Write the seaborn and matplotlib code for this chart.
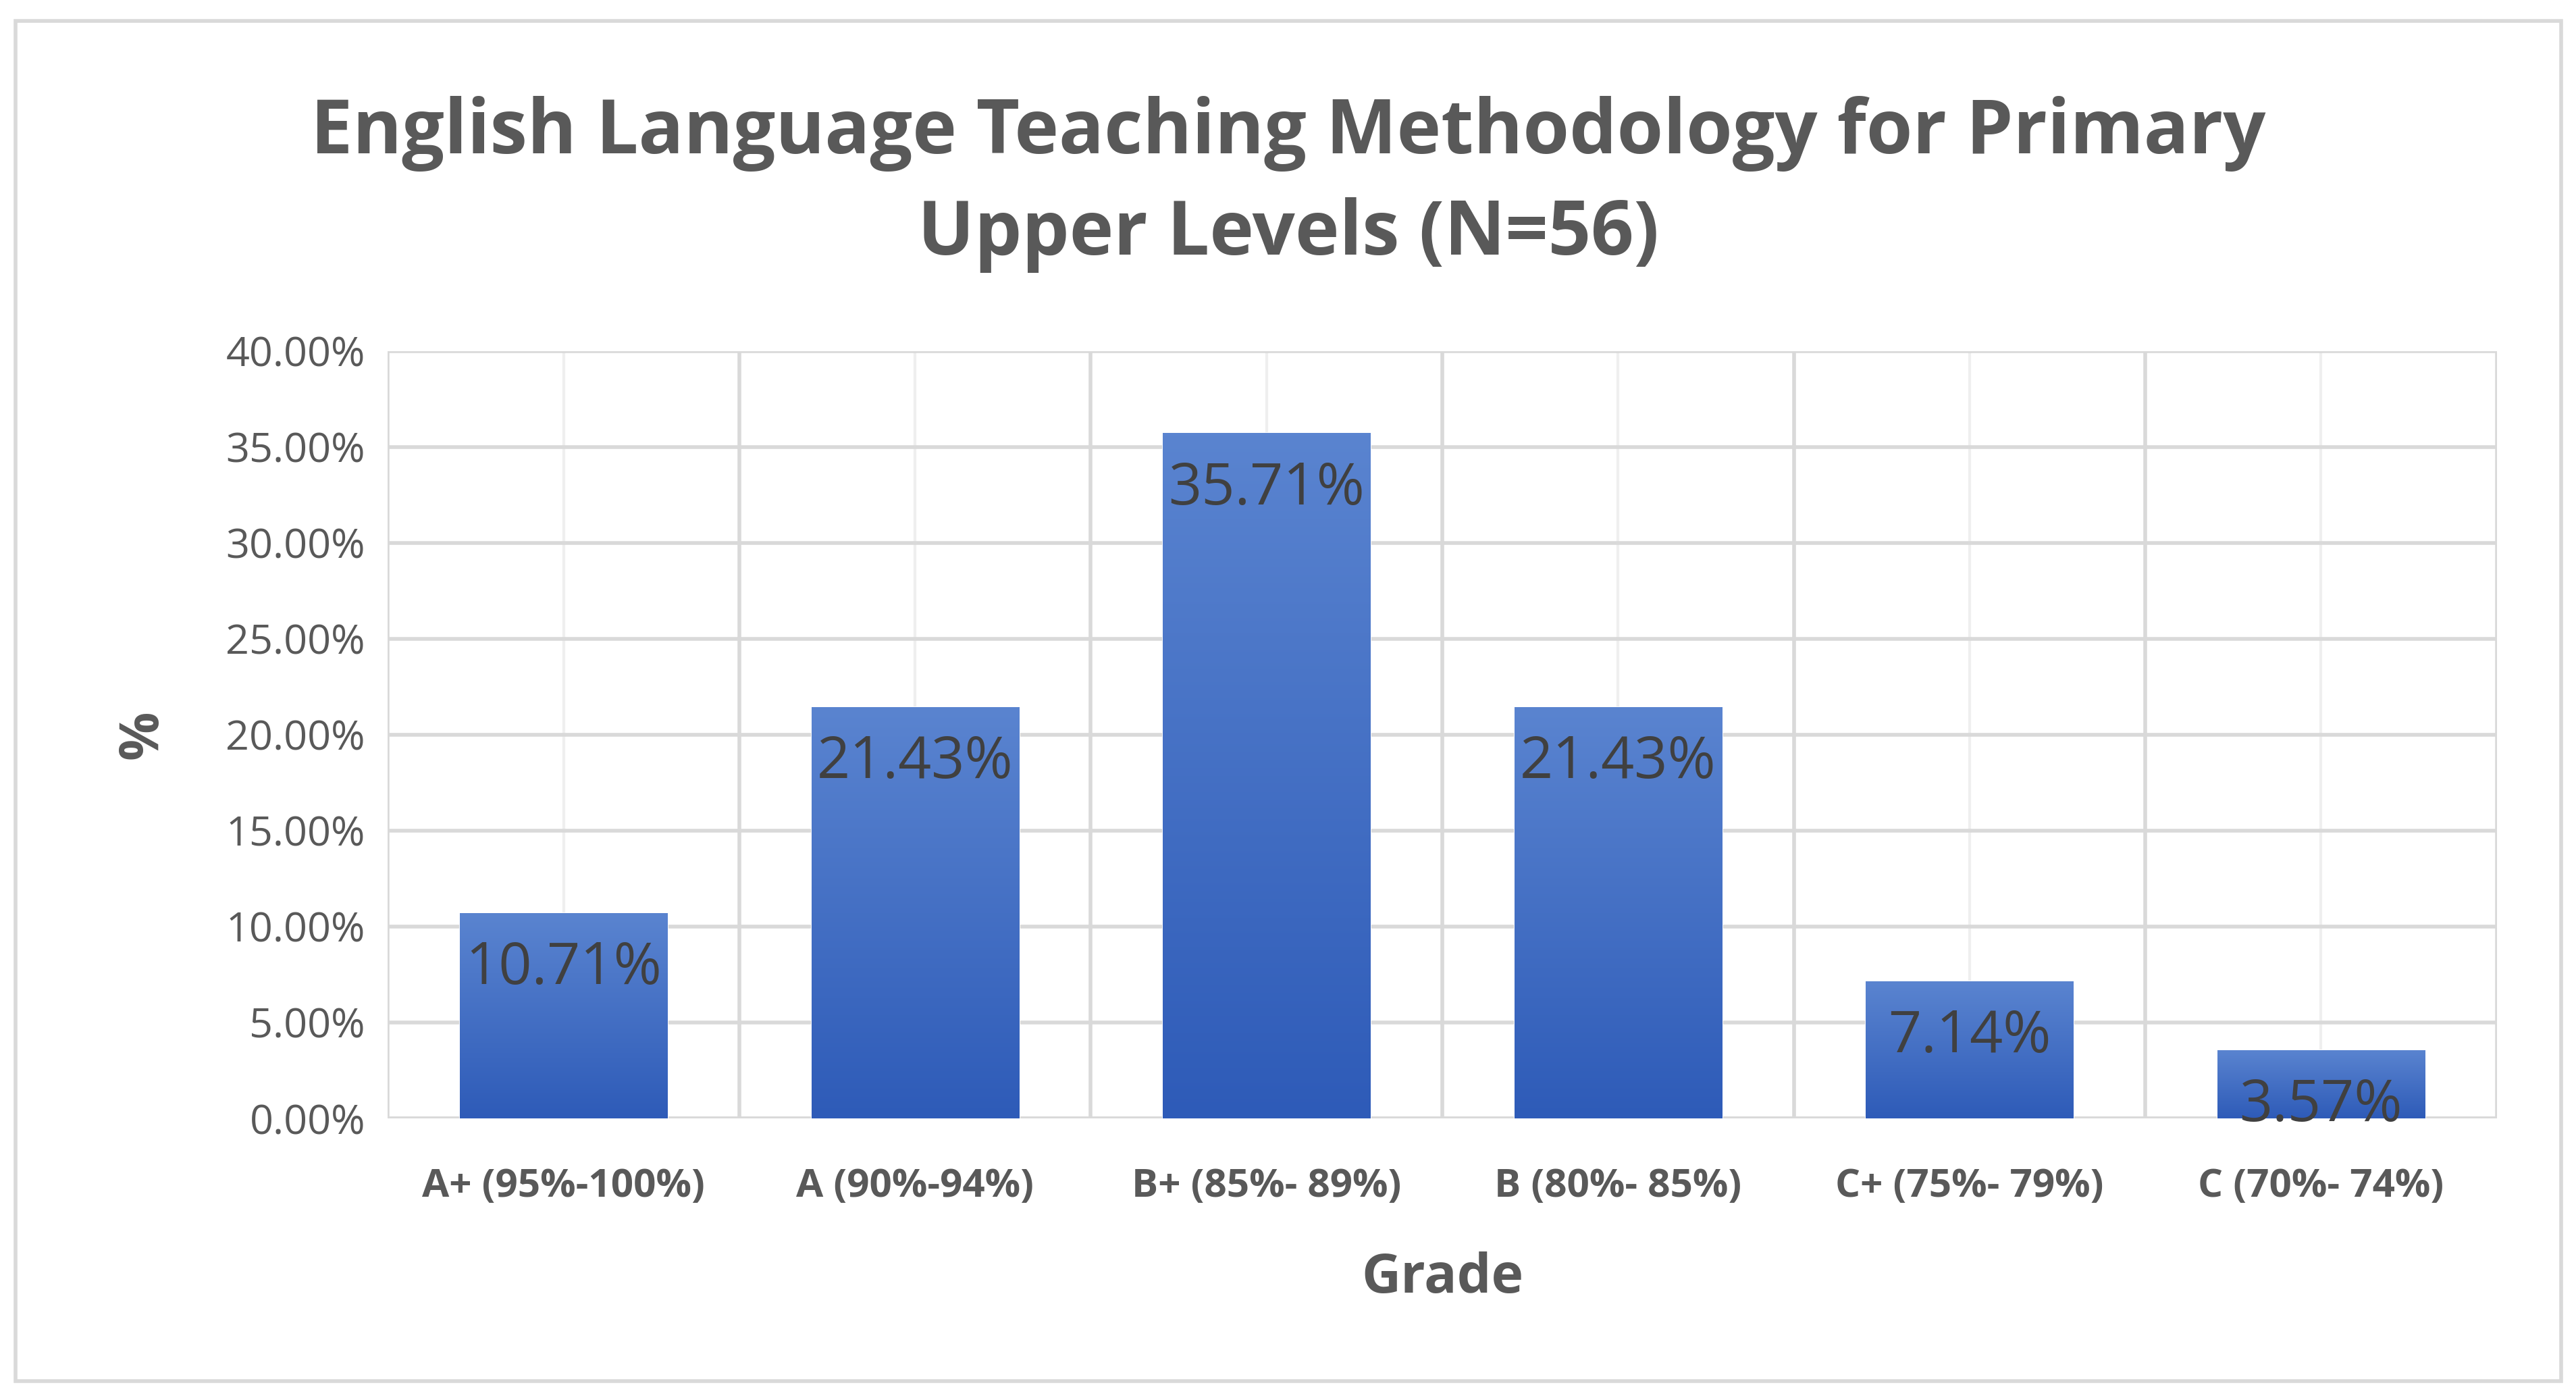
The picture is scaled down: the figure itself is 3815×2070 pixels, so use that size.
import numpy as np
import pandas as pd
import matplotlib.pyplot as plt
import seaborn as sns
from matplotlib.patches import Rectangle
from matplotlib.ticker import FuncFormatter, MultipleLocator

sns.set_style("white")
plt.rcParams['font.family'] = ['Open Sans', 'DejaVu Sans']

grades = ['A+ (95%-100%)', 'A (90%-94%)', 'B+ (85%- 89%)', 'B (80%- 85%)', 'C+ (75%- 79%)', 'C (70%- 74%)']
percent = [10.71, 21.43, 35.71, 21.43, 7.14, 3.57]

df = pd.DataFrame({'grade': grades, 'percent': percent})

fig = plt.figure(figsize=(19.08, 10.35), dpi=200)
ax = fig.add_axes([0.1505, 0.2, 0.8185, 0.549])

sns.barplot(data=df, x='grade', y='percent', color='#3b6cc9', width=0.59, ax=ax, zorder=3)

# vertical gradient on each bar
grad = np.linspace(0, 1, 256).reshape(-1, 1)
cmap = plt.matplotlib.colors.LinearSegmentedColormap.from_list('g', ['#2e5bb8', '#5a84d0'])
for p in ax.patches:
    x0, y0 = p.get_x(), p.get_y()
    w, h = p.get_width(), p.get_height()
    im = ax.imshow(grad, extent=[x0, x0 + w, y0, y0 + h], origin='lower', cmap=cmap,
                   aspect='auto', zorder=4)
    im.set_clip_path(p)
    ax.text(x0 + w / 2, y0 + h - 1.4, f'{h:.2f}%', ha='center', va='top',
            fontsize=31, color='#404040', zorder=5)

ax.set_xlim(-0.5, len(grades) - 0.5)
ax.set_ylim(0, 40)
ax.yaxis.set_major_locator(MultipleLocator(5))
ax.yaxis.set_major_formatter(FuncFormatter(lambda v, _: f'{v:.2f}%'))
ax.grid(axis='y', color='#d9d9d9', linewidth=2, zorder=0)
for i in range(len(grades) + 1):
    ax.axvline(i - 0.5, color='#d9d9d9', linewidth=2, zorder=0)
for i in range(len(grades)):
    ax.axvline(i, color='#efefef', linewidth=1.5, zorder=0)

for s in ax.spines.values():
    s.set_visible(False)
ax.axhline(0, color='#d9d9d9', linewidth=2, zorder=2)
ax.tick_params(axis='y', labelsize=22, labelcolor='#595959', length=0, pad=12)
ax.tick_params(axis='x', labelsize=21, labelcolor='#595959', length=0, pad=26)
for t in ax.get_xticklabels():
    t.set_fontweight('bold')

ax.set_xlabel('Grade', fontsize=29, fontweight='bold', color='#595959', labelpad=24)
ax.set_ylabel('%', fontsize=29, fontweight='bold', color='#595959', labelpad=30)

fig.text(0.5, 0.868, 'English Language Teaching Methodology for Primary\nUpper Levels (N=56)',
         ha='center', va='center', fontsize=40, fontweight='bold', color='#595959',
         linespacing=1.45)

fig.patches.append(Rectangle((0.006, 0.012), 0.988, 0.973, transform=fig.transFigure,
                             fill=False, edgecolor='#d9d9d9', linewidth=2))

fig.savefig('out.png', dpi=200, facecolor='white')
